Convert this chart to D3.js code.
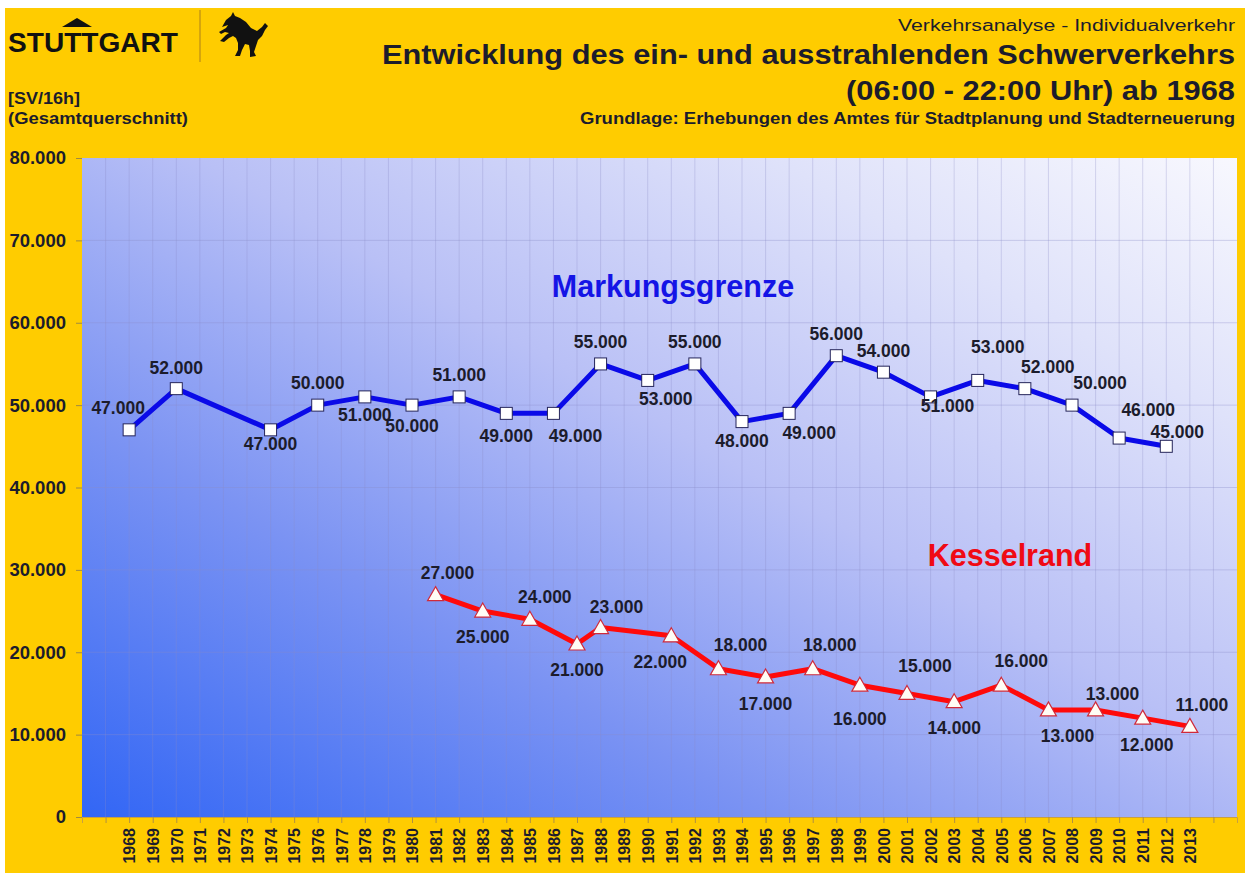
<!DOCTYPE html>
<html><head><meta charset="utf-8">
<script src="https://cdn.jsdelivr.net/npm/d3@7"></script>
<style>html,body{margin:0;padding:0;background:#fff}svg{display:block}</style>
</head><body>
<svg id="c" width="1250" height="873"></svg>
<script>
// ---- data ----
const years = d3.range(1968, 2014);
const yTicks = [0, 10000, 20000, 30000, 40000, 50000, 60000, 70000, 80000];
const markYears = [1968,1970,1974,1976,1978,1980,1982,1984,1986,1988,1990,1992,1994,1996,1998,2000,2002,2004,2006,2008,2010,2012];
const markValues = [47000,52000,47000,50000,51000,50000,51000,49000,49000,55000,53000,55000,48000,49000,56000,54000,51000,53000,52000,50000,46000,45000];
const kessYears = [1981,1983,1985,1987,1988,1991,1993,1995,1997,1999,2001,2003,2005,2007,2009,2011,2013];
const kessValues = [27000,25000,24000,21000,23000,22000,18000,17000,18000,16000,15000,14000,16000,13000,13000,12000,11000];
// label placement (dx, dy relative to marker)
const markLabelOff = [[-11,-22],[0,-21],[0,14],[0,-22],[0,18],[0,21],[0,-22],[0,22],[22,22],[0,-22],[18,18],[0,-22],[0,19],[20,19],[0,-22],[0,-21],[17,9],[20,-34],[23,-22],[28,-22],[29,-28],[11,-15]];
const kessLabelOff = [[12,-22],[0,26],[15,-23],[0,26],[16,-21],[-11,26],[22,-24],[0,27],[17,-24],[0,33],[18,-28],[0,26],[20,-25],[19,26],[17,-16],[4,27],[12,-22]];

const fmt = v => d3.format(",")(v).replace(/,/g, ".");
const svg = d3.select("#c");
const F = "'Liberation Sans', Arial, sans-serif";
const dark = "#1c1c2c";

// background
svg.append("rect").attr("x",5).attr("y",8).attr("width",1240).attr("height",865).attr("fill","#ffcc00");

const L = 82, R = 1237, T = 158, B = 817;
const x = d3.scaleLinear().domain([1966, 2015]).range([L, R]);
const y = d3.scaleLinear().domain([0, 80000]).range([B, T]);

const defs = svg.append("defs");
const g = defs.append("linearGradient").attr("id","bg").attr("x1",0).attr("y1",1).attr("x2",1).attr("y2",0);
[[0,"#3266f5"],[0.3,"#7b93f3"],[0.55,"#b9c0f6"],[0.8,"#dfe2fa"],[1,"#f8f8fe"]].forEach(s=>g.append("stop").attr("offset",s[0]).attr("stop-color",s[1]));

svg.append("rect").attr("x",L).attr("y",T).attr("width",R-L).attr("height",B-T).attr("fill","url(#bg)");

// grid
const grid = svg.append("g");
grid.selectAll(".vg").data(d3.range(1967, 2015)).join("line")
  .attr("x1",d=>x(d)).attr("x2",d=>x(d)).attr("y1",T).attr("y2",B)
  .attr("stroke","#8a8cc8").attr("stroke-opacity",0.3).attr("stroke-width",1);
grid.selectAll(".hg").data(yTicks.slice(1,-1)).join("line")
  .attr("x1",L).attr("x2",R).attr("y1",d=>y(d)).attr("y2",d=>y(d))
  .attr("stroke","#8a8cc8").attr("stroke-opacity",0.35).attr("stroke-width",1);

// axes
const ya = svg.append("g").attr("transform",`translate(${L},0)`)
  .call(d3.axisLeft(y).tickValues(yTicks).tickFormat(fmt).tickSize(6).tickPadding(10));
ya.select(".domain").remove();
ya.selectAll(".tick line").attr("stroke","#a08a40");
ya.selectAll("text").attr("font-family",F).attr("font-weight","bold").attr("font-size",18.5).attr("fill",dark);

const xa = svg.append("g").attr("transform",`translate(0,${B})`)
  .call(d3.axisBottom(x).tickValues(d3.range(1967,2015)).tickFormat(d=> (d>=1968&&d<=2013)? String(d):"").tickSize(6));
xa.select(".domain").attr("stroke","#c8a040");
xa.selectAll(".tick line").attr("stroke","#b09040");
xa.selectAll("text").attr("font-family",F).attr("font-weight","bold").attr("font-size",16).attr("fill",dark)
  .attr("transform","rotate(-90)").attr("text-anchor","end").attr("x",-11).attr("y",0).attr("dy","0.36em");

// lines
const line = d3.line().x(d=>x(d[0])).y(d=>y(d[1]));
const markData = markYears.map((yr,i)=>[yr, markValues[i]]);
const kessData = kessYears.map((yr,i)=>[yr, kessValues[i]]);

svg.append("path").datum(markData).attr("d",line).attr("fill","none").attr("stroke","#0a0ae8").attr("stroke-width",5).attr("stroke-linejoin","round");
svg.append("path").datum(kessData).attr("d",line).attr("fill","none").attr("stroke","#ff0a0a").attr("stroke-width",5).attr("stroke-linejoin","round");

// markers
svg.selectAll(".sq").data(markData).join("rect")
  .attr("x",d=>x(d[0])-6).attr("y",d=>y(d[1])-6).attr("width",12).attr("height",12)
  .attr("fill","#fff").attr("stroke","#25255a").attr("stroke-width",1);
svg.selectAll(".tri").data(kessData).join("path")
  .attr("d",d=>{const cx=x(d[0]), cy=y(d[1]); return `M${cx},${cy-8}L${cx+8},${cy+6}L${cx-8},${cy+6}Z`;})
  .attr("fill","#fffdf5").attr("stroke","#d02a3a").attr("stroke-width",1.2);

// data labels
const lbl = (data, offs) => svg.append("g").selectAll("text").data(data).join("text")
  .attr("x",(d,i)=>x(d[0])+offs[i][0]).attr("y",(d,i)=>y(d[1])+offs[i][1])
  .attr("dy","0.36em").attr("text-anchor","middle")
  .attr("font-family",F).attr("font-weight","bold").attr("font-size",17.5).attr("fill",dark)
  .text(d=>fmt(d[1]));
lbl(markData, markLabelOff);
lbl(kessData, kessLabelOff);

// series names
svg.append("text").attr("x",673).attr("y",297).attr("text-anchor","middle").attr("font-family",F)
  .attr("font-weight","bold").attr("font-size",30.5).attr("fill","#1414e6").text("Markungsgrenze");
svg.append("text").attr("x",1010).attr("y",566).attr("text-anchor","middle").attr("font-family",F)
  .attr("font-weight","bold").attr("font-size",30.5).attr("fill","#f00a14").text("Kesselrand");

// header
const t = (txt, xx, yy, size, weight, anchor, len) => {
  const e = svg.append("text").attr("x",xx).attr("y",yy).attr("font-family",F).attr("font-size",size)
    .attr("font-weight",weight).attr("fill",dark).attr("text-anchor",anchor).text(txt);
  if (len) e.attr("textLength",len).attr("lengthAdjust","spacingAndGlyphs");
  return e;
};
t("Verkehrsanalyse  -  Individualverkehr", 1235, 31, 16, "normal", "end", 337);
t("Entwicklung des ein- und ausstrahlenden Schwerverkehrs", 1235, 64, 27, "bold", "end", 853);
t("(06:00 - 22:00 Uhr) ab 1968", 1235, 100, 27, "bold", "end", 389);
t("Grundlage: Erhebungen des Amtes für Stadtplanung und Stadterneuerung", 1235, 124, 16, "bold", "end", 655);
t("[SV/16h]", 8, 104, 16, "bold", "start", 72);
t("(Gesamtquerschnitt)", 8, 124, 16, "bold", "start", 180);

// logo
t("STUTTGART", 8, 52, 28, "bold", "start", 170).attr("fill","#111");
svg.append("path").attr("d","M62,27 L77,18 L92,27 Z").attr("fill","#111");
svg.append("line").attr("x1",200).attr("x2",200).attr("y1",10).attr("y2",62).attr("stroke","#c99a10").attr("stroke-width",1.5);
svg.append("path").attr("fill","#111")
  .attr("d","M222,27 L226,20 L231,16 L233,12 L235,16 L240,18 L246,22 L251,28 L257,31 L262,27 L265,23 L268,26 L265,30 L262,36 L258,40 L256,46 L254,52 L256,56 L250,57 L250,51 L249,45 L245,44 L242,50 L240,56 L235,56 L238,50 L238,43 L236,38 L233,36 L229,38 L224,42 L220,41 L226,35 L229,33 L225,32 L221,34 L219,32 L226,28 L228,25 Z");
</script>
</body></html>
